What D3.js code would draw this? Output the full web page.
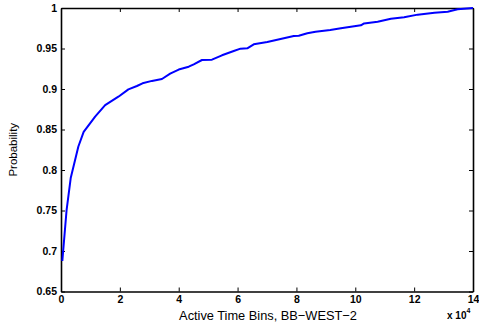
<!DOCTYPE html>
<html>
<head>
<meta charset="utf-8">
<script src="https://cdn.jsdelivr.net/npm/d3@7"></script>
<style>
  html, body { margin: 0; padding: 0; background: #fff; }
  svg { display: block; }
</style>
</head>
<body>
<svg id="chart" width="479" height="327"></svg>
<script>
// Active time bins (in units of 10^4) and cumulative probability
const bins = [0.045, 0.19, 0.33, 0.59, 0.77, 1.16, 1.5, 1.95, 2.29, 2.58, 2.77, 3.09, 3.43, 3.71, 4.0,
  4.34, 4.51, 4.79, 5.13, 5.47, 5.87, 6.10, 6.33, 6.55, 7.01, 7.46, 7.91, 8.08, 8.37, 8.65,
  9.15, 9.51, 10.19, 10.3, 10.76, 11.21, 11.66, 12.12, 12.69, 13.14, 13.48, 14.0];
const probability = [0.6877, 0.7506, 0.790, 0.829, 0.847, 0.866, 0.880, 0.8905, 0.8996, 0.9037, 0.907,
  0.910, 0.9123, 0.919, 0.924, 0.9275, 0.9305, 0.9358, 0.9362, 0.9416, 0.9469, 0.9498, 0.9502,
  0.9552, 0.958, 0.9617, 0.9654, 0.9658, 0.9688, 0.9707, 0.9728, 0.9749, 0.9786, 0.981, 0.9831,
  0.9868, 0.9885, 0.9918, 0.9942, 0.9954, 0.9984, 1.0];
const xTicks = [0, 2, 4, 6, 8, 10, 12, 14];
const yTicks = [0.65, 0.7, 0.75, 0.8, 0.85, 0.9, 0.95, 1];

const svg = d3.select("#chart");
const box = { left: 61, right: 473, top: 8, bottom: 291.5 };

const x = d3.scaleLinear().domain([0, 14]).range([box.left, box.right]);
const y = d3.scaleLinear().domain([0.65, 1]).range([box.bottom, box.top]);

const tickFont = "bold 10.5px 'Liberation Sans', Arial, sans-serif";
const tickLen = 4;

// bottom axis with labels
const gB = svg.append("g").attr("transform", `translate(0,${box.bottom})`)
  .call(d3.axisBottom(x).tickValues(xTicks).tickFormat(d3.format("d"))
    .tickSizeInner(-tickLen).tickSizeOuter(0).tickPadding(4));
// left axis with labels
const gL = svg.append("g").attr("transform", `translate(${box.left},0)`)
  .call(d3.axisLeft(y).tickValues(yTicks).tickFormat(d => d === 1 ? "1" : d3.format(".2~f")(d))
    .tickSizeInner(-tickLen).tickSizeOuter(0).tickPadding(4));
// top and right axes: ticks only
const gT = svg.append("g").attr("transform", `translate(0,${box.top})`)
  .call(d3.axisTop(x).tickValues(xTicks).tickFormat("").tickSizeInner(-tickLen).tickSizeOuter(0));
const gR = svg.append("g").attr("transform", `translate(${box.right},0)`)
  .call(d3.axisRight(y).tickValues(yTicks).tickFormat("").tickSizeInner(-tickLen).tickSizeOuter(0));

[gB, gL, gT, gR].forEach(g => {
  g.selectAll(".domain").attr("stroke", "#000").attr("stroke-width", 1.6);
  g.selectAll(".tick line").attr("stroke", "#000").attr("stroke-width", 1);
  g.selectAll("text").style("font", tickFont).attr("fill", "#000");
});

// curve
const line = d3.line().x((d, i) => x(bins[i])).y(d => y(d));
svg.append("path")
  .datum(probability)
  .attr("d", line)
  .attr("fill", "none")
  .attr("stroke", "#0000ff")
  .attr("stroke-width", 2)
  .attr("stroke-linejoin", "round");

// axis titles
svg.append("text")
  .attr("x", (box.left + box.right) / 2 + 1).attr("y", 320)
  .attr("text-anchor", "middle")
  .style("font", "12.8px 'Liberation Sans', Arial, sans-serif")
  .text("Active Time Bins, BB\u2212WEST\u22122");

svg.append("text")
  .attr("transform", `translate(17,${(box.top + box.bottom) / 2}) rotate(-90)`)
  .attr("text-anchor", "middle")
  .style("font", "11.5px 'Liberation Sans', Arial, sans-serif")
  .text("Probability");

// exponent marker
const ex = svg.append("text")
  .attr("x", 447).attr("y", 319)
  .style("font", "bold 10px 'Liberation Sans', Arial, sans-serif");
ex.append("tspan").text("x 10");
ex.append("tspan").attr("dy", -6).style("font-size", "7px").text("4");
</script>
</body>
</html>
